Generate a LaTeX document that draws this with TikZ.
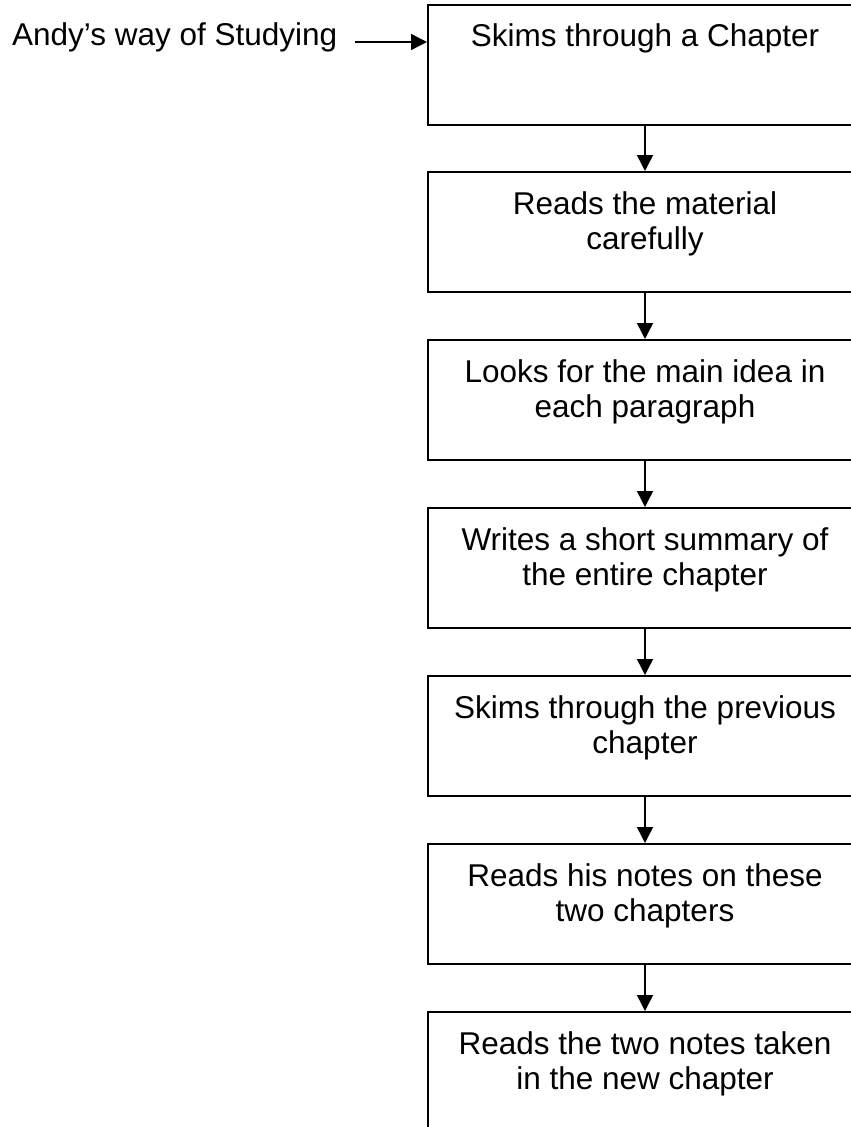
\documentclass[tikz,border=0pt]{standalone}
\usepackage{fontspec}
\setmainfont{Liberation Sans}
\usetikzlibrary{arrows.meta}
\newcommand\flowtext[1]{\parbox[c][120pt][t]{434pt}{\fontsize{31.5pt}{35pt}\selectfont\centering\rule{0pt}{42pt}#1\par}}
\tikzset{
  stepbox/.style={draw=black, line width=2pt, inner sep=0pt, minimum width=434pt, minimum height=120pt},
  conn/.style={line width=1.5pt, -{Triangle[length=16pt,width=16pt]}},
  lbl/.style={inner sep=0pt, font=\fontsize{31.5pt}{35pt}\selectfont}
}
\begin{document}
\begin{tikzpicture}[x=1pt,y=1pt]
\useasboundingbox (0,0) rectangle (851,-1127);
\fill[white] (0,0) rectangle (851,-1127);
\clip (0,0) rectangle (851,-1127);
\node[stepbox] (b1) at (645,-64.5) {\flowtext{Skims through a Chapter}};
\node[stepbox] (b2) at (645,-232) {\flowtext{Reads the material\\carefully}};
\node[stepbox] (b3) at (645,-400) {\flowtext{Looks for the main idea in\\each paragraph}};
\node[stepbox] (b4) at (645,-568) {\flowtext{Writes a short summary of\\the entire chapter}};
\node[stepbox] (b5) at (645,-736) {\flowtext{Skims through the previous\\chapter}};
\node[stepbox] (b6) at (645,-904) {\flowtext{Reads his notes on these\\two chapters}};
\node[stepbox] (b7) at (645,-1072) {\flowtext{Reads the two notes taken\\in the new chapter}};
\node[lbl, anchor=base west] (andy) at (12,-45.5) {Andy’s way of Studying};
\coordinate (ay) at (0,-42);
\draw[conn] (andy.east |- ay) ++(17,0) -- (b1.west |- ay);
\draw[conn] (b1.south) -- (b2.north);
\draw[conn] (b2.south) -- (b3.north);
\draw[conn] (b3.south) -- (b4.north);
\draw[conn] (b4.south) -- (b5.north);
\draw[conn] (b5.south) -- (b6.north);
\draw[conn] (b6.south) -- (b7.north);
\end{tikzpicture}
\end{document}
